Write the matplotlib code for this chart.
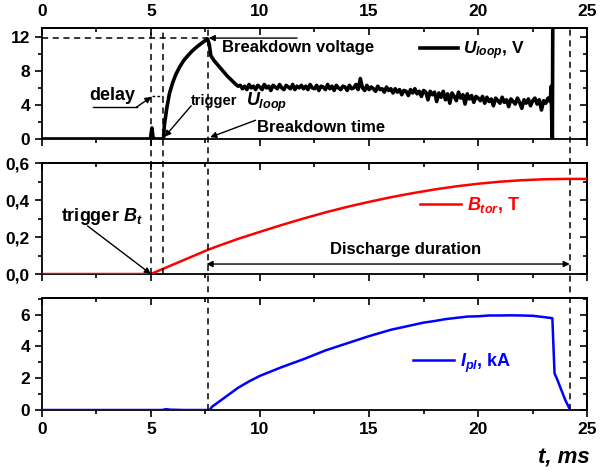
import numpy as np
import matplotlib
matplotlib.use('Agg')
import matplotlib.pyplot as plt
from matplotlib.lines import Line2D
from matplotlib.ticker import MultipleLocator, FixedLocator, FuncFormatter
import matplotlib.transforms as mtransforms

plt.rcParams['font.family'] = ['Liberation Sans', 'DejaVu Sans']
plt.rcParams['font.weight'] = 'bold'
plt.rcParams['mathtext.fontset'] = 'custom'
plt.rcParams['mathtext.it'] = 'Liberation Sans:italic:bold'
plt.rcParams['mathtext.rm'] = 'Liberation Sans:bold'
plt.rcParams['mathtext.bf'] = 'Liberation Sans:bold'

# --- U_loop (V): start-up part
t_u_start = [0, 4.98, 5.05, 5.1, 5.15, 5.58, 5.62, 5.73, 5.85, 6.0, 6.15, 6.31,
             6.5, 6.7, 6.92, 7.15, 7.38, 7.6, 7.68, 7.75, 7.9, 8.1, 8.3, 8.5,
             8.7, 8.9, 9.0]
u_start = [0, 0, 1.3, 0.2, 0, 0, 1.6, 3.6, 5.3, 6.6, 7.6, 8.4,
           9.2, 9.8, 10.4, 10.9, 11.35, 11.75, 11.1, 9.8, 9.2, 8.6, 8.0, 7.4,
           6.9, 6.4, 6.2]
# noisy plateau, every 0.1 ms from 9.1 to 23.3 ms
u_plateau = [
    6.3, 5.9, 6.2, 5.8, 6.4, 6.0, 6.2, 5.8, 6.3, 6.1, 5.8, 6.4, 6.0, 6.2, 5.7,
    6.3, 6.1, 5.9, 6.4, 6.0, 5.8, 6.3, 6.1, 5.9, 6.4, 5.8, 6.2, 6.0, 6.3, 5.9,
    6.2, 5.8, 6.4, 6.0, 5.9, 6.3, 5.7, 6.2, 6.1, 5.8, 6.4, 5.9, 6.2, 5.7, 6.3,
    6.0, 5.8, 6.2, 6.1, 5.7, 6.3, 5.9, 6.0, 6.4, 5.8,
    7.1, 6.0, 5.7, 6.3, 5.8, 6.1, 5.9, 5.6, 6.2, 5.8, 5.9, 5.5, 6.1, 5.7, 5.9,
    5.4, 5.9, 5.5, 5.8, 5.2, 5.7, 5.6, 5.1, 5.8, 5.4, 5.9, 5.3, 5.6, 5.0, 5.7,
    5.5, 4.6, 5.6, 5.2, 5.5,
    4.4, 5.4, 4.9, 5.6, 4.6, 5.3, 4.2, 5.4, 5.0, 4.5, 5.5, 4.8, 5.2, 4.1, 5.3,
    4.7, 5.1, 4.3, 5.0, 4.8,
    4.5, 5.0, 4.2, 4.9, 4.4, 4.7, 3.9, 4.8, 4.5, 4.2, 4.9, 4.3, 4.6, 3.8, 4.7,
    4.4, 4.1, 4.8, 4.3, 3.6, 4.6, 4.2, 4.7, 3.9, 4.5, 4.8, 4.1, 4.6, 3.4, 4.5,
    4.2, 4.8, 4.4]
t_u_end = [23.35, 23.37, 23.40, 23.42]
u_end = [6.2, 2.4, 0.0, 14.0]

# --- B_tor (T)
t_b = [0, 5.0, 6, 7, 7.6, 8, 9, 10, 11, 12, 13, 14, 15, 16, 17, 18, 19, 20,
       21, 22, 23, 24, 25]
b_tor = [0, 0, 0.05, 0.10, 0.13, 0.148, 0.19, 0.228, 0.265, 0.30, 0.333,
         0.363, 0.39, 0.415, 0.437, 0.457, 0.474, 0.488, 0.499, 0.507, 0.512,
         0.514, 0.514]

# --- I_pl (kA)
t_i = [0, 5.5, 5.7, 5.9, 6.5, 7.7, 7.8, 8.0, 8.5, 9.0, 9.5, 10, 11, 12, 13, 14,
       15, 16, 17, 17.5, 18, 18.5, 19, 19.5, 20, 20.5, 21, 21.5, 22, 22.5, 23,
       23.4, 23.45, 23.5, 23.6, 23.8, 24.0, 24.2]
i_pl = [0, 0, 0.05, 0.02, 0, 0, 0.2, 0.4, 0.9, 1.4, 1.8, 2.15, 2.7, 3.2, 3.75,
        4.2, 4.65, 5.05, 5.35, 5.5, 5.6, 5.72, 5.8, 5.88, 5.9, 5.95, 5.95,
        5.96, 5.95, 5.93, 5.85, 5.78, 4.0, 2.3, 2.0, 1.3, 0.6, 0.05]

# event times (ms): trigger Bt, trigger Uloop, breakdown, end of discharge
t_trig_b, t_trig_u, t_bd, t_end = 5.0, 5.55, 7.6, 24.2
u_bd = 11.85

x_major = [0, 5, 10, 15, 20, 25]
x_minor = [2.5, 7.5, 12.5, 17.5, 22.5]

t_plateau = np.round(np.arange(9.1, 23.35, 0.1), 2)[:len(u_plateau)]
t_u = np.concatenate([t_u_start, t_plateau, t_u_end])
u_loop = np.concatenate([u_start, u_plateau, u_end])

fig = plt.figure(figsize=(6, 4.74), dpi=100)
L, W = 0.0695, 0.9093
ax1 = fig.add_axes([L, 0.7068, W, 0.2335])
ax2 = fig.add_axes([L, 0.4219, W, 0.2342])
ax3 = fig.add_axes([L, 0.1350, W, 0.2363])

ax1.plot(t_u, u_loop, color='black', lw=2.6, label='$U_{loop}$, V', zorder=3,
         solid_joinstyle='round')
ax2.plot(t_b, b_tor, color='#ff0000', lw=1.8, label='$B_{tor}$, T', zorder=3)
ax3.plot(t_i, i_pl, color='#0000ff', lw=1.8, label='$I_{pl}$, kA', zorder=3)

ax1.set_ylim(0, 13)
ax2.set_ylim(0, 0.6)
ax3.set_ylim(0, 7.05)
ax1.yaxis.set_major_locator(MultipleLocator(4))
ax1.yaxis.set_minor_locator(MultipleLocator(2))
ax2.yaxis.set_major_locator(MultipleLocator(0.2))
ax2.yaxis.set_minor_locator(MultipleLocator(0.1))
ax2.yaxis.set_major_formatter(FuncFormatter(lambda v, p: ('%.1f' % v).replace('.', ',')))
ax3.yaxis.set_major_locator(MultipleLocator(2))
ax3.yaxis.set_minor_locator(MultipleLocator(1))

for k, ax in enumerate([ax1, ax2, ax3]):
    ax.set_xlim(0, 25)
    ax.xaxis.set_major_locator(FixedLocator(x_major))
    ax.xaxis.set_minor_locator(FixedLocator(x_minor))
    ax.tick_params(which='both', direction='out', width=1.2, labelsize=12.5,
                   top=False, right=False, labelbottom=(k == 2))
    ax.tick_params(which='major', length=5)
    ax.tick_params(which='minor', length=3)
    for s in ax.spines.values():
        s.set_linewidth(1.3)
    sx = ax.secondary_xaxis('top')
    sx.xaxis.set_major_locator(FixedLocator(x_major))
    sx.xaxis.set_minor_locator(FixedLocator(x_minor))
    sx.tick_params(which='both', direction='in', width=1.2, labelsize=12.5,
                   labeltop=(k == 0), pad=6.5)
    sx.tick_params(which='major', length=5)
    sx.tick_params(which='minor', length=3)
    sy = ax.secondary_yaxis('right')
    sy.yaxis.set_major_locator(FixedLocator(ax.get_yticks()))
    sy.yaxis.set_minor_locator(FixedLocator(ax.get_yticks(minor=True)))
    sy.tick_params(which='both', direction='in', width=1.2, labelright=False)
    sy.tick_params(which='major', length=5)
    sy.tick_params(which='minor', length=3)
    for s in list(sx.spines.values()) + list(sy.spines.values()):
        s.set_linewidth(1.3)

# dashed guide lines across panels
dash = dict(color='black', lw=1.1, linestyle=(0, (4, 3)), zorder=1)
y_top = 0.9403
for tx, yb in [(t_trig_b, 0.4219), (t_trig_u, 0.4219), (t_bd, 0.135), (t_end, 0.135)]:
    tr = mtransforms.blended_transform_factory(ax1.transData, fig.transFigure)
    fig.add_artist(Line2D([tx, tx], [yb, y_top], transform=tr, **dash))
ax1.plot([0, t_bd], [u_bd, u_bd], **dash)

arr = dict(arrowstyle='-|>', color='black', lw=1.0, mutation_scale=9,
           shrinkA=0, shrinkB=0)

# top panel annotations
ax1.annotate('', xy=(t_bd + 0.05, u_bd), xytext=(11.7, u_bd), arrowprops=arr)
ax1.text(8.25, 10.7, 'Breakdown voltage', fontsize=12, va='center', ha='left')
ax1.plot([2.33, 4.35], [3.75, 3.75], color='black', lw=1.0)
ax1.annotate('', xy=(5.03, 4.95), xytext=(4.35, 3.75), arrowprops=arr)
ax1.plot([t_trig_b + 0.05, t_trig_u], [5.0, 5.0], color='black', lw=1.0,
         linestyle=(0, (2, 1.5)))
ax1.text(2.2, 5.1, 'delay', fontsize=13, va='center', ha='left')
ax1.annotate('', xy=(5.63, 0.25), xytext=(6.85, 3.9), arrowprops=arr)
ax1.text(6.85, 4.5, 'trigger', fontsize=10.5, va='center', ha='left')
ax1.text(9.35, 4.3, '$U_{loop}$', fontsize=13, va='center', ha='left')
ax1.annotate('', xy=(7.72, 0.2), xytext=(9.8, 2.2), arrowprops=arr)
ax1.text(9.85, 1.4, 'Breakdown time', fontsize=12, va='center', ha='left')

# middle panel annotations
ax2.annotate('', xy=(t_trig_b, 0.0), xytext=(2.1, 0.26), arrowprops=arr)
ax2.text(0.9, 0.31, 'trigger $B_t$', fontsize=13, va='center', ha='left')
ax2.annotate('', xy=(t_bd - 0.05, 0.054), xytext=(t_end, 0.054),
             arrowprops=dict(arr, arrowstyle='<|-|>'))
ax2.text(13.2, 0.133, 'Discharge duration', fontsize=12, va='center', ha='left')

# legends
for ax, pos, col, hl, fs in [(ax1, (0.693, 0.80), 'black', 2.2, 12.5),
                             (ax2, (0.693, 0.62), 'red', 2.3, 13),
                             (ax3, (0.68, 0.42), 'blue', 2.3, 13)]:
    lg = ax.legend(loc='center left', bbox_to_anchor=pos, frameon=False,
                   handlelength=hl, handletextpad=0.3, borderpad=0,
                   borderaxespad=0, prop={'size': fs, 'weight': 'bold'})
    for txt in lg.get_texts():
        txt.set_color(col)

fig.text(0.983, 0.034, 't, ms', fontsize=16, fontstyle='italic',
         fontweight='bold', ha='right', va='center')

fig.savefig('out.png', dpi=100)
